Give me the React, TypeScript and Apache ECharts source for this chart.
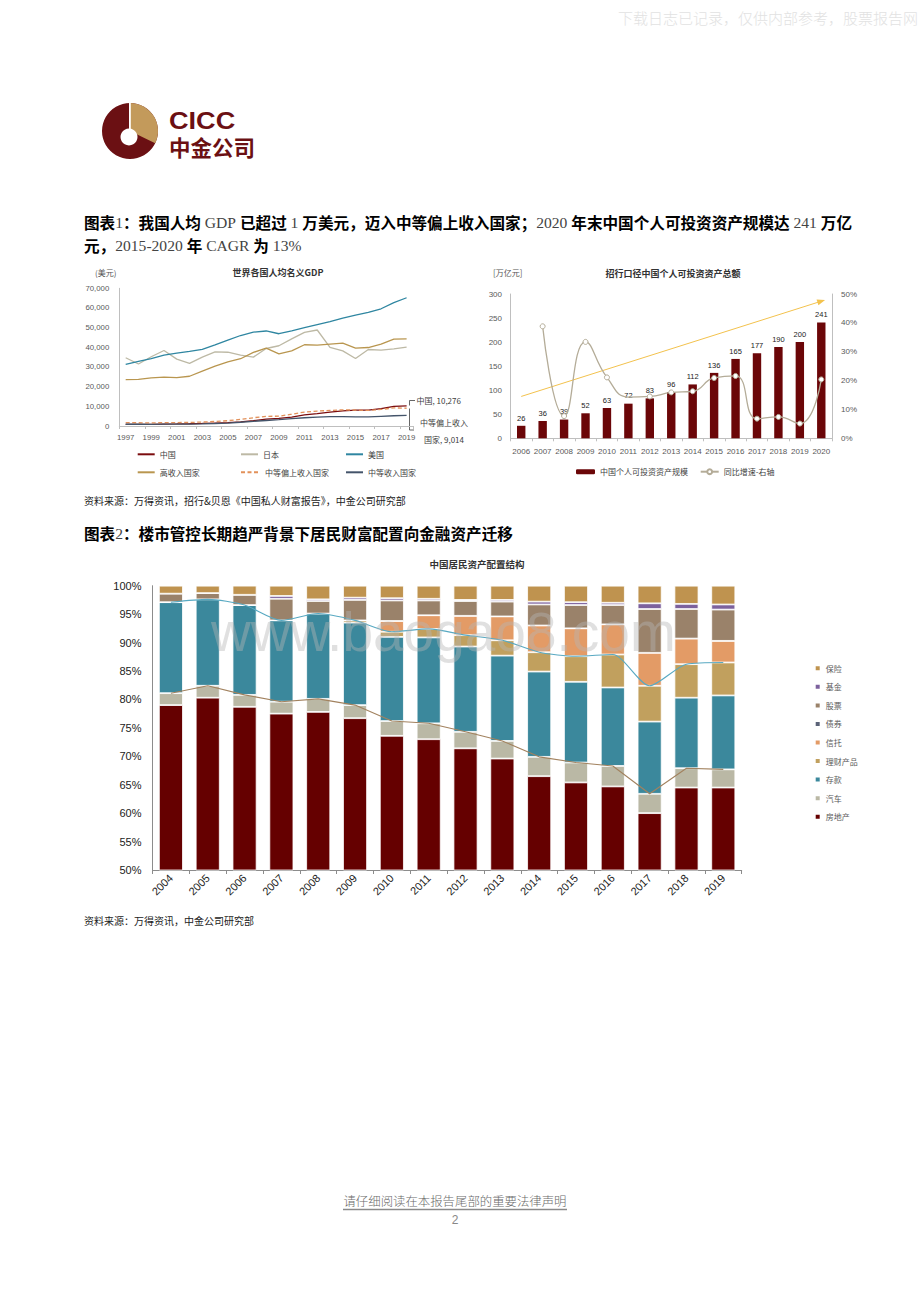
import React, { useEffect, useRef } from 'react';
import * as echarts from 'echarts';

// ---------- Chart 1: 世界各国人均名义GDP ----------
const gdpYears = ['1997','1998','1999','2000','2001','2002','2003','2004','2005','2006','2007','2008','2009','2010','2011','2012','2013','2014','2015','2016','2017','2018','2019'];
const gdpChina = [780, 830, 870, 960, 1050, 1150, 1290, 1510, 1750, 2100, 2690, 3470, 3830, 4550, 5620, 6300, 7020, 7640, 8030, 8080, 8820, 9980, 10276];
const gdpJapan = [34700, 31500, 35200, 38400, 34000, 31800, 35000, 37700, 37500, 36000, 35000, 39400, 40800, 44300, 47600, 48800, 40000, 38200, 34300, 38900, 38600, 39200, 40100];
const gdpUS = [31300, 32800, 34200, 36000, 37000, 37900, 38900, 41200, 43700, 46000, 47700, 48300, 46900, 48400, 50000, 51500, 53000, 54800, 56400, 57800, 59600, 62700, 65200];
const gdpHigh = [23600, 23700, 24500, 24800, 24600, 25300, 27900, 30400, 32600, 34200, 37400, 39600, 36700, 38200, 41300, 41100, 41600, 42100, 39600, 39900, 41600, 44200, 44300];
const gdpUpperMid = [1700, 1650, 1600, 1700, 1750, 1800, 2000, 2300, 2700, 3400, 4200, 4900, 5000, 6000, 7100, 7600, 7900, 8200, 8100, 7900, 8400, 9200, 9014];
const gdpMid = [900, 880, 870, 920, 930, 950, 1080, 1260, 1500, 1900, 2400, 2800, 3200, 3700, 4200, 4500, 4800, 4800, 4600, 4600, 4900, 5200, 5400];

// ---------- Chart 2: 招行口径中国个人可投资资产总额 ----------
const assetYears = ['2006','2007','2008','2009','2010','2011','2012','2013','2014','2015','2016','2017','2018','2019','2020'];
const assetValues = [26, 36, 39, 52, 63, 72, 83, 96, 112, 136, 165, 177, 190, 200, 241];
const assetGrowth = [null, 38.8, 7.7, 33.4, 21.1, 14.3, 14.5, 15.9, 16.3, 20.9, 21.6, 6.8, 7.4, 5.1, 20.4];
const growthHiddenMarker = '2011';

// ---------- Chart 3: 中国居民资产配置结构 ----------
const structYears = ['2004','2005','2006','2007','2008','2009','2010','2011','2012','2013','2014','2015','2016','2017','2018','2019'];
const sRealEstate = [79.0, 80.3, 78.7, 77.5, 77.8, 76.7, 73.6, 73.0, 71.4, 69.6, 66.5, 65.4, 64.7, 60.0, 64.5, 64.5];
const sCar = [2.1, 2.1, 2.1, 2.1, 2.3, 2.3, 2.6, 2.8, 2.9, 3.1, 3.4, 3.5, 3.6, 3.4, 3.4, 3.2];
const sDeposit = [16.0, 15.2, 15.8, 14.3, 15.0, 14.5, 14.8, 15.1, 15.0, 15.0, 15.0, 14.2, 13.8, 12.7, 12.4, 13.0];
const sWealth = [0, 0, 0, 0, 0, 0.4, 0.9, 1.5, 2.0, 2.7, 3.4, 4.5, 5.8, 6.3, 5.9, 5.8];
const sTrust = [0, 0, 0, 0, 0, 0, 1.9, 2.4, 3.4, 4.2, 4.7, 4.9, 5.3, 5.8, 4.5, 3.8];
const sBond = [0, 0, 0, 0, 0, 0, 0, 0, 0, 0, 0, 0, 0, 0, 0, 0];
const sStock = [1.5, 1.1, 1.8, 3.8, 2.2, 3.6, 3.6, 2.6, 2.6, 2.6, 3.7, 4.1, 3.4, 7.7, 5.2, 5.5];
const sFund = [0, 0, 0, 0.5, 0.3, 0.4, 0.4, 0.3, 0.2, 0.3, 0.5, 0.5, 0.4, 1.0, 0.9, 0.9];
const sInsurance = [1.4, 1.3, 1.6, 1.8, 2.4, 2.1, 2.2, 2.3, 2.5, 2.5, 2.8, 2.9, 3.0, 3.1, 3.2, 3.3];
const structLegend = ['保险', '基金', '股票', '债券', '信托', '理财产品', '存款', '汽车', '房地产'];

const FONT = "'Liberation Sans', 'Noto Sans CJK SC', sans-serif";
const CJK = "'Noto Sans CJK SC', 'Liberation Sans', sans-serif";

function buildOption() {
  const carTop = sRealEstate.map((v, i) => +(v + sCar[i]).toFixed(2));
  const wealthTop = sRealEstate.map((v, i) => +(v + sCar[i] + sDeposit[i] + sWealth[i]).toFixed(2));
  const growthData = assetGrowth.map((v, i) =>
    assetYears[i] === growthHiddenMarker ? { value: v, symbol: 'none' } : v);

  const gdpLine = (name: string, data: number[], color: string, dashed = false) => ({
    name, type: 'line', xAxisIndex: 0, yAxisIndex: 0, data, symbol: 'none',
    lineStyle: { color, width: 1.3, type: dashed ? [4, 2.5] : 'solid' },
    itemStyle: { color }, z: 3,
  });

  const structBar = (name: string, data: number[], color: string) => ({
    name, type: 'bar', stack: 'struct', xAxisIndex: 2, yAxisIndex: 3, data,
    barWidth: 24, itemStyle: { color, borderColor: '#ffffff', borderWidth: 0.8 },
  });

  const lg = (name: string, left: number, top: number, extra: any = {}) => ({
    data: [name], left, top, orient: 'horizontal', itemWidth: 17, itemHeight: 8, itemGap: 0,
    padding: 0, textStyle: { fontSize: 8, color: '#404040', fontFamily: CJK, lineHeight: 8 },
    selectedMode: false, ...extra,
  });

  const text = (t: string, x: number, y: number, o: any = {}) => ({
    type: 'text', x, y, silent: true, z: o.z ?? 10,
    style: {
      text: t, fill: o.fill ?? '#333', fontSize: o.fontSize ?? 8, fontFamily: o.fontFamily ?? CJK,
      fontWeight: o.fontWeight ?? 'normal', align: o.align ?? 'left', textAlign: o.align ?? 'left',
      verticalAlign: 'middle', textVerticalAlign: 'middle', rich: o.rich,
    },
  });

  const titleRich = {
    c: { fontFamily: CJK, fontWeight: 'bold', fontSize: 15.6, fill: '#000', color: '#000' },
    e: { fontFamily: "'Liberation Serif', serif", fontWeight: 'normal', fontSize: 15.6, fill: '#444', color: '#444' },
  };

  const graphic: any[] = [
    text('下载日志已记录，仅供内部参考，股票报告网', 918, 17, { fontSize: 15, fill: '#e2e2e2', align: 'right', fontWeight: 300 }),
    { type: 'circle', shape: { cx: 130, cy: 131, r: 28 }, style: { fill: '#6B1013' }, silent: true },
    { type: 'sector', shape: { cx: 130, cy: 131, r: 28, r0: 0, startAngle: -Math.PI / 2, endAngle: 0.45, clockwise: true }, style: { fill: '#C39A5B' }, silent: true },
    { type: 'circle', shape: { cx: 129, cy: 137, r: 8.5 }, style: { fill: '#ffffff' }, silent: true },
    { type: 'rect', shape: { x: 129, y: 102.5, width: 1.8, height: 30 }, style: { fill: '#ffffff' }, silent: true },
    { type: 'text', x: 169, y: 121, scaleX: 1.13, silent: true, style: { text: 'CICC', fill: '#6B1013', fontSize: 24, fontWeight: 'bold', fontFamily: "'Liberation Sans', sans-serif", verticalAlign: 'middle', textVerticalAlign: 'middle' } },
    text('中金公司', 169, 146, { fontSize: 21.5, fontWeight: 'bold', fill: '#6B1013' }),
    text('{c|图表}{e|1}{c|：我国人均}{e| GDP }{c|已超过}{e| 1 }{c|万美元，迈入中等偏上收入国家；}{e|2020 }{c|年末中国个人可投资资产规模达}{e| 241 }{c|万亿}', 84, 222, { rich: titleRich }),
    text('{c|元，}{e|2015-2020 }{c|年}{e| CAGR }{c|为}{e| 13%}', 84, 245, { rich: titleRich }),
    text('世界各国人均名义GDP', 278, 272.5, { fontSize: 9, fontWeight: 'bold', align: 'center', fill: '#333' }),
    text('(美元)', 95, 272, { fontSize: 8, fill: '#555' }),
    text('招行口径中国个人可投资资产总额', 673, 273, { fontSize: 9, fontWeight: 'bold', align: 'center', fill: '#333' }),
    text('[万亿元]', 493, 272.5, { fontSize: 8, fill: '#555' }),
    text('中国, 10,276', 416.5, 400.5, { fontSize: 8, fill: '#404040' }),
    text('中等偏上收入', 444, 422.5, { fontSize: 8, fill: '#404040', align: 'center' }),
    text('国家, 9,014', 444, 439, { fontSize: 8, fill: '#404040', align: 'center' }),
    { type: 'polyline', silent: true, shape: { points: [[415, 400.5], [409.5, 400.5], [409.5, 405.5]] }, style: { stroke: '#404040', lineWidth: 0.8, fill: 'none' } },
    { type: 'polyline', silent: true, shape: { points: [[409.5, 408.5], [409.5, 430], [414, 430]] }, style: { stroke: '#404040', lineWidth: 0.8, fill: 'none' } },
    text('资料来源：万得资讯，招行&贝恩《中国私人财富报告》，中金公司研究部', 84, 500.5, { fontSize: 10, fill: '#222' }),
    text('{c|图表}{e|2}{c|：楼市管控长期趋严背景下居民财富配置向金融资产迁移}', 84, 533, { rich: titleRich }),
    text('中国居民资产配置结构', 477, 564, { fontSize: 9.5, fontWeight: 'bold', align: 'center', fill: '#333' }),
    text('资料来源：万得资讯，中金公司研究部', 84, 920, { fontSize: 10, fill: '#222' }),
    text('请仔细阅读在本报告尾部的重要法律声明', 455, 1201, { fontSize: 12.4, fill: '#6a6a6a', align: 'center', fontWeight: 300 }),
    { type: 'line', silent: true, shape: { x1: 343, y1: 1209.5, x2: 567, y2: 1209.5 }, style: { stroke: '#8a8a8a', lineWidth: 1.3 } },
    text('2', 455, 1220, { fontSize: 12, fill: '#888', align: 'center', fontFamily: "'Liberation Sans', sans-serif" }),
    text('www.baogao8.com', 211, 632, { fontSize: 55, fill: 'rgba(180,180,180,0.42)', fontFamily: "'Liberation Sans', sans-serif", z: 100 }),
  ];

  const axisGray = '#bfbfbf';

  return {
    animation: false,
    backgroundColor: '#ffffff',
    textStyle: { fontFamily: FONT },
    graphic,
    grid: [
      { left: 119.3, top: 288.3, width: 293.7, height: 137.7, outerBoundsMode: 'none', containLabel: false },
      { left: 510.5, top: 294, width: 321.5, height: 144.3, outerBoundsMode: 'none', containLabel: false },
      { left: 152.5, top: 585.7, width: 589.2, height: 284.3, outerBoundsMode: 'none', containLabel: false },
    ],
    xAxis: [
      {
        gridIndex: 0, type: 'category', data: gdpYears, boundaryGap: true,
        axisLine: { show: true, lineStyle: { color: axisGray, width: 1 } },
        axisTick: { show: true, interval: 1, length: 3, lineStyle: { color: axisGray } },
        axisLabel: { interval: 1, fontSize: 7.8, color: '#595959', margin: 8, fontFamily: FONT },
        splitLine: { show: false },
      },
      {
        gridIndex: 1, type: 'category', data: assetYears, boundaryGap: true,
        axisLine: { show: true, lineStyle: { color: axisGray, width: 1 } },
        axisTick: { show: true, length: 3, lineStyle: { color: axisGray } },
        axisLabel: { interval: 0, fontSize: 8, color: '#595959', margin: 9, fontFamily: FONT },
        splitLine: { show: false },
      },
      {
        gridIndex: 2, type: 'category', data: structYears, boundaryGap: true,
        axisLine: { show: true, onZero: false, lineStyle: { color: '#8c8c8c', width: 1 } },
        axisTick: { show: true, length: 4, lineStyle: { color: '#8c8c8c' } },
        axisLabel: { interval: 0, rotate: 45, fontSize: 11, color: '#222', margin: 6, fontFamily: FONT },
        splitLine: { show: false },
      },
    ],
    yAxis: [
      {
        gridIndex: 0, type: 'value', min: 0, max: 70000, interval: 10000,
        axisLine: { show: true, lineStyle: { color: axisGray, width: 1 } },
        axisTick: { show: false }, splitLine: { show: false },
        axisLabel: { fontSize: 7.8, color: '#595959', margin: 10, fontFamily: FONT,
          formatter: (v: number) => v.toLocaleString('en-US') },
      },
      {
        gridIndex: 1, type: 'value', min: 0, max: 300, interval: 50,
        axisLine: { show: true, lineStyle: { color: axisGray, width: 1 } },
        axisTick: { show: false }, splitLine: { show: false },
        axisLabel: { fontSize: 8, color: '#595959', margin: 8.5, fontFamily: FONT },
      },
      {
        gridIndex: 1, type: 'value', position: 'right', min: 0, max: 50, interval: 10,
        axisLine: { show: true, lineStyle: { color: axisGray, width: 1 } },
        axisTick: { show: false }, splitLine: { show: false },
        axisLabel: { fontSize: 8, color: '#595959', margin: 9, fontFamily: FONT, formatter: '{value}%' },
      },
      {
        gridIndex: 2, type: 'value', min: 50, max: 100, interval: 5,
        axisLine: { show: true, lineStyle: { color: '#8c8c8c', width: 1 } },
        axisTick: { show: false }, splitLine: { show: false },
        axisLabel: { fontSize: 11, color: '#222', margin: 11, fontFamily: FONT, formatter: '{value}%' },
      },
    ],
    legend: [
      lg('中国', 136.7, 450.3, { itemStyle: { opacity: 0 } }),
      lg('日本', 240, 450.3, { itemStyle: { opacity: 0 } }),
      lg('美国', 345, 450.3, { itemStyle: { opacity: 0 } }),
      lg('高收入国家', 136.7, 468.3, { itemStyle: { opacity: 0 } }),
      lg('中等偏上收入国家', 240, 468.3, { itemWidth: 19, itemStyle: { opacity: 0 } }),
      lg('中等收入国家', 345, 468.3, { itemStyle: { opacity: 0 } }),
      lg('中国个人可投资资产规模', 576, 467.7, { itemWidth: 19, itemHeight: 5 }),
      lg('同比增速-右轴', 699.7, 467.7, { itemWidth: 18, itemHeight: 6 }),
      {
        data: structLegend, orient: 'vertical', left: 813.7, top: 664.3, itemWidth: 6, itemHeight: 6,
        itemGap: 10.55, padding: 0, selectedMode: false, icon: 'rect',
        textStyle: { fontSize: 8, color: '#595959', fontFamily: CJK, lineHeight: 8 },
      },
    ],
    series: [
      gdpLine('中国', gdpChina, '#7B0C0E'),
      gdpLine('日本', gdpJapan, '#BDB9A5'),
      gdpLine('美国', gdpUS, '#2F86A1'),
      gdpLine('高收入国家', gdpHigh, '#B9964F'),
      gdpLine('中等偏上收入国家', gdpUpperMid, '#E2915A', true),
      gdpLine('中等收入国家', gdpMid, '#44546A'),
      {
        name: '中国个人可投资资产规模', type: 'bar', xAxisIndex: 1, yAxisIndex: 1, data: assetValues,
        barWidth: 8.4, itemStyle: { color: '#6B0608' },
        label: { show: true, position: 'top', distance: 4, fontSize: 7.5, color: '#222', fontFamily: FONT },
        markLine: {
          silent: true, symbol: ['none', 'triangle'], symbolSize: [6, 8], animation: false,
          label: { show: false },
          lineStyle: { color: '#F3C24D', width: 1, type: 'solid' },
          itemStyle: { color: '#F3C24D' },
          data: [[{ coord: ['2006', 87] }, { coord: ['2020', 285] }]],
        },
      },
      {
        name: '同比增速-右轴', type: 'line', xAxisIndex: 1, yAxisIndex: 2, data: growthData,
        smooth: 0.5, symbol: 'circle', symbolSize: 5, showSymbol: true,
        lineStyle: { color: '#B4AC98', width: 1.3 },
        itemStyle: { color: '#ffffff', borderColor: '#B4AC98', borderWidth: 1 },
        z: 5,
      },
      structBar('房地产', sRealEstate, '#650000'),
      structBar('汽车', sCar, '#BAB8A5'),
      structBar('存款', sDeposit, '#3B889C'),
      structBar('理财产品', sWealth, '#C1A05E'),
      structBar('信托', sTrust, '#E39B66'),
      structBar('债券', sBond, '#5B6378'),
      structBar('股票', sStock, '#9A826A'),
      structBar('基金', sFund, '#7C619D'),
      structBar('保险', sInsurance, '#BF934F'),
      {
        name: 'cumWealth', type: 'line', xAxisIndex: 2, yAxisIndex: 3, data: wealthTop,
        symbol: 'none', smooth: 0.25, lineStyle: { color: '#58A9C2', width: 1.1 }, z: 6,
      },
      {
        name: 'cumCar', type: 'line', xAxisIndex: 2, yAxisIndex: 3, data: carTop,
        symbol: 'none', lineStyle: { color: '#A2825F', width: 1.1 }, z: 6,
      },
    ],
  };
}

export default function App() {
  const ref = useRef<HTMLDivElement>(null);
  useEffect(() => {
    if (!ref.current) return;
    const chart = echarts.init(ref.current, null, { renderer: 'svg' });
    chart.setOption(buildOption() as any);
    return () => chart.dispose();
  }, []);
  return (
    <div
      ref={ref}
      style={{ position: 'absolute', left: 0, top: 0, width: 920, height: 1303, background: '#ffffff' }}
    />
  );
}
